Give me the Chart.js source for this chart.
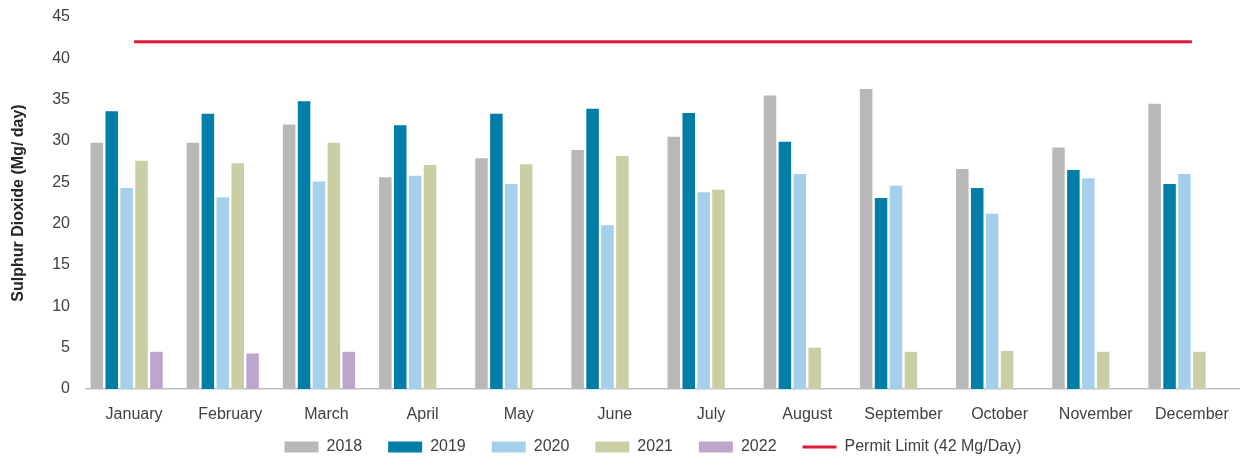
<!DOCTYPE html>
<html>
<head>
<meta charset="utf-8">
<script src="https://cdn.jsdelivr.net/npm/chart.js@4/dist/chart.umd.min.js"></script>
<style>
html,body{margin:0;padding:0;background:#ffffff;}
#wrap{width:1240px;height:459px;}
</style>
</head>
<body>
<div id="wrap"><canvas id="c" width="1240" height="459"></canvas></div>
<script>
const months = ['January','February','March','April','May','June','July','August','September','October','November','December'];
const s2018 = [29.8, 29.8, 32.0, 25.6, 27.9, 28.9, 30.5, 35.5, 36.3, 26.6, 29.2, 34.5];
const s2019 = [33.6, 33.3, 34.8, 31.9, 33.3, 33.9, 33.4, 29.9, 23.1, 24.3, 26.5, 24.8];
const s2020 = [24.3, 23.2, 25.1, 25.8, 24.8, 19.8, 23.8, 26.0, 24.6, 21.2, 25.5, 26.0];
const s2021 = [27.6, 27.3, 29.8, 27.1, 27.2, 28.2, 24.1, 5.0, 4.5, 4.6, 4.5, 4.5];
const s2022 = [4.5, 4.3, 4.5, null, null, null, null, null, null, null, null, null];
const emptySlot = [null, null, null, null, null, null, null, null, null, null, null, null];
const permitLimit = [42, 42, 42, 42, 42, 42, 42, 42, 42, 42, 42, 42];
const yTicks = [0, 5, 10, 15, 20, 25, 30, 35, 40, 45];

const FONT = "'Liberation Sans', Arial, sans-serif";
Chart.defaults.font.family = FONT;
Chart.defaults.font.size = 16;
Chart.defaults.color = '#404040';

const barCommon = { categoryPercentage: 0.93, barPercentage: 0.84, borderWidth: 0 };

// move the bottom legend up so it sits just under the month labels
const legendNudge = {
  id: 'legendNudge',
  afterLayout(chart) {
    const lg = chart.legend;
    if (lg) { lg.top -= 12; lg.bottom -= 12; lg.left -= 10; lg.right -= 10; }
  }
};

new Chart(document.getElementById('c'), {
  type: 'bar',
  plugins: [legendNudge],
  data: {
    labels: months,
    datasets: [
      Object.assign({ label: '2018', data: s2018, backgroundColor: '#B8B8B8' }, barCommon),
      Object.assign({ label: '2019', data: s2019, backgroundColor: '#007EA7' }, barCommon),
      Object.assign({ label: '2020', data: s2020, backgroundColor: '#A4D0EC' }, barCommon),
      Object.assign({ label: '2021', data: s2021, backgroundColor: '#CBCDA5' }, barCommon),
      Object.assign({ label: '2022', data: s2022, backgroundColor: '#BEA5CB' }, barCommon),
      Object.assign({ label: '', data: emptySlot, backgroundColor: 'rgba(0,0,0,0)' }, barCommon),
      { type: 'line', label: 'Permit Limit (42 Mg/Day)', data: permitLimit,
        borderColor: '#E31837', backgroundColor: '#E31837', borderWidth: 3,
        pointRadius: 0, pointHoverRadius: 0, fill: false, tension: 0 }
    ]
  },
  options: {
    responsive: false,
    animation: false,
    devicePixelRatio: 1,
    layout: { padding: { top: 17, left: 0, right: -8, bottom: -18 } },
    plugins: {
      tooltip: { enabled: false },
      legend: {
        position: 'bottom',
        fullSize: false,
        labels: {
          usePointStyle: true,
          pointStyleWidth: 34,
          boxHeight: 11,
          padding: 26,
          color: '#404040',
          font: { size: 16, family: FONT },
          filter: (item) => item.text !== '',
          generateLabels: (chart) => {
            const items = Chart.defaults.plugins.legend.labels.generateLabels(chart);
            items.forEach(it => {
              const ds = chart.data.datasets[it.datasetIndex];
              if (ds.type === 'line') {
                it.pointStyle = 'line';
                it.strokeStyle = ds.borderColor;
                it.lineWidth = 3;
              } else {
                it.pointStyle = 'rect';
                it.lineWidth = 0;
              }
            });
            return items;
          }
        }
      }
    },
    scales: {
      x: {
        offset: true,
        grid: { display: false, drawTicks: false, tickLength: 0 },
        border: { display: true, color: '#BFBFBF', width: 1.5 },
        ticks: { padding: 16, autoSkip: false, maxRotation: 0, color: '#404040', font: { size: 16 } },
        afterFit: (scale) => {
          scale.height = 36;
          scale.paddingLeft = 0;
          scale.paddingRight = 0;
        }
      },
      y: {
        min: 0,
        max: 45,
        afterBuildTicks: (scale) => { scale.ticks = yTicks.map(v => ({ value: v })); },
        grid: { display: false, drawTicks: false, tickLength: 0 },
        border: { display: false },
        ticks: { padding: 16, color: '#404040', font: { size: 16 } },
        title: {
          display: true,
          text: 'Sulphur Dioxide (Mg/ day)',
          color: '#262626',
          font: { size: 16, weight: 'bold', family: FONT },
          padding: { top: 9, bottom: 0 }
        },
        afterFit: (scale) => {
          scale.width = 86;
          scale.paddingTop = 8;
          scale.paddingBottom = 8;
        }
      }
    }
  }
});
</script>
</body>
</html>
